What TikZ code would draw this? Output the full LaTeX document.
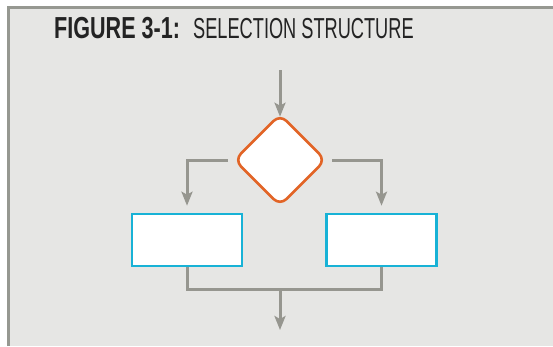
\documentclass[tikz,border=0pt]{standalone}
\usepackage{fontspec}
\usepackage{tikz}
\usetikzlibrary{arrows.meta}
\usetikzlibrary{positioning}
\usetikzlibrary{shapes.geometric}
\newfontfamily\headfont{Liberation Sans}[FakeStretch=0.71]
\newfontfamily\captfont{Liberation Sans}[FakeStretch=0.63]
\definecolor{panelbg}{RGB}{230,230,228}
\definecolor{panelrule}{RGB}{150,152,145}
\definecolor{flowline}{RGB}{150,150,143}
\definecolor{decorange}{RGB}{226,100,38}
\definecolor{boxcyan}{RGB}{24,178,214}
\definecolor{titleink}{RGB}{35,35,35}

\begin{document}
\begin{tikzpicture}[x=1bp,y=-1bp,
  flow/.style={draw=flowline,line width=3bp},
  flowarrow/.style={flow,-{Stealth[length=14bp,width=11bp,inset=3bp]}},
  decision/.style={diamond,draw=decorange,fill=white,line width=2.6bp,rounded corners=9bp,inner sep=0pt,minimum width=92bp,minimum height=92bp},
  process/.style={rectangle,draw=boxcyan,fill=white,line width=2.6bp,inner sep=0pt,minimum width=110bp,minimum height=52bp},
  heading/.style={anchor=base west,inner sep=0pt,text=titleink}]
  \useasboundingbox (0,0) rectangle (553,346);
  % panel
  \fill[panelbg] (8,7) rectangle (553,346);
  \draw[panelrule,line width=3bp] (8,346) -- (8,7) -- (553,7);

  \node[heading,font=\headfont\bfseries\fontsize{30.5}{30}\selectfont] (fignum) at (54,38) {FIGURE 3-1:};
  \node[heading,font=\captfont\fontsize{29}{29}\selectfont] (figname) at (193,38) {SELECTION STRUCTURE};

  \coordinate (start) at (280,70);
  \node[decision] (test) at (280,160) {};
  \node[process] (yes) at (187,240) {};
  \node[process] (no) at (381.5,240) {};
  \coordinate (join) at (280,289);
  \coordinate (stop) at (280,330);

  \draw[flowarrow] (start) -- ([yshift=-4bp]test.north);
  \draw[flowarrow,shorten >=7bp] ([xshift=-5bp]test.west) -| (yes.north);
  \draw[flowarrow,shorten >=7bp] ([xshift=5bp]test.east) -| (no.north);
  \draw[flow] (yes.south) |- (join) -| (no.south);
  \draw[flowarrow] (join) -- (stop);
\end{tikzpicture}
\end{document}
